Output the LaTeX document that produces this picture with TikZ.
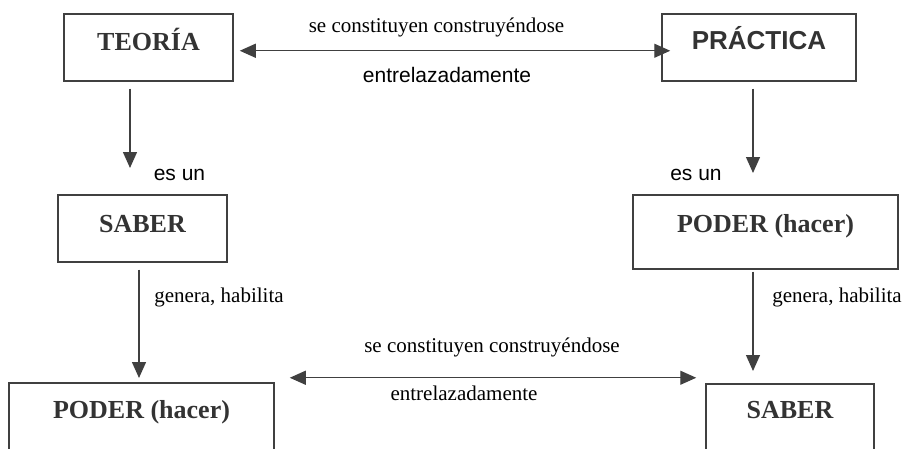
\documentclass[tikz,border=0pt]{standalone}
\usepackage{fontspec}
\setmainfont{Liberation Serif}
\setsansfont{Liberation Sans}
\usetikzlibrary{arrows.meta}

\definecolor{gris}{HTML}{404040}
\definecolor{tinta}{HTML}{333333}

\begin{document}
\begin{tikzpicture}[
    x=1pt, y=-1pt,
    caja/.style={draw=gris, line width=1.5pt, inner sep=0pt, anchor=north,
      text=tinta, font=\bfseries\fontsize{26}{30}\selectfont},
    etiq/.style={inner sep=0pt, anchor=base, text=black, font=\fontsize{21}{24}\selectfont},
    sans/.style={font=\sffamily\fontsize{21}{24}\selectfont},
    flecha/.style={draw=gris, line width=1.3pt, -{Triangle[length=16pt,width=14pt]}},
    doble/.style={draw=gris, line width=1.3pt,
      {Triangle[length=16pt,width=14pt]}-{Triangle[length=16pt,width=14pt]}}
  ]

  \useasboundingbox (0,0) rectangle (903,448);

  \node[caja, minimum width=169, text height=37, text depth=30] (teoria) at (148.5,13) {TEORÍA};
  \node[caja, minimum width=194, text height=36, text depth=31,
    font=\sffamily\bfseries\fontsize{26}{30}\selectfont] (practica) at (759,13) {PRÁCTICA};
  \node[caja, minimum width=169, text height=38, text depth=29] (saber) at (142.5,194) {SABER};
  \node[caja, minimum width=265, text height=38, text depth=36] (poder) at (765.5,194) {PODER (hacer)};
  \node[caja, minimum width=265, text height=36, text depth=44] (poderb) at (141.5,382) {PODER (hacer)};
  \node[caja, minimum width=168, text height=35, text depth=45] (saberb) at (790,383) {SABER};

  \draw[doble, shorten <=6pt, shorten >=-9pt] ([yshift=-3.5pt]teoria.east) -- ([yshift=-3.5pt]practica.west);
  \node[etiq] (rel1) at (436.5,32) {se constituyen construyéndose};
  \node[etiq, sans] (rel2) at (447,82) {entrelazadamente};

  \draw[flecha, shorten <=7pt, shorten >=26pt] ([xshift=-18.5pt]teoria.south) -- ([xshift=-12.5pt]saber.north);
  \draw[flecha, shorten <=7pt, shorten >=21pt] ([xshift=-6pt]practica.south) -- ([xshift=-12.5pt]poder.north);
  \node[etiq, sans] (esun1) at (179.5,180) {es un};
  \node[etiq, sans] (esun2) at (696,180) {es un};

  \draw[flecha, shorten <=7pt, shorten >=4pt] ([xshift=-3.5pt]saber.south) -- ([xshift=-2.5pt]poderb.north);
  \draw[flecha, shorten <=2pt, shorten >=12pt] ([xshift=-12.5pt]poder.south) -- ([xshift=-37pt]saberb.north);
  \node[etiq] (gen1) at (219,302) {genera, habilita};
  \node[etiq] (gen2) at (837,302) {genera, habilita};

  \draw[doble, shorten <=15pt, shorten >=9pt] ([yshift=45pt]poderb.east) -- ([yshift=46pt]saberb.west);
  \node[etiq] (rel3) at (492,352) {se constituyen construyéndose};
  \node[etiq] (rel4) at (464,400) {entrelazadamente};

\end{tikzpicture}
\end{document}
